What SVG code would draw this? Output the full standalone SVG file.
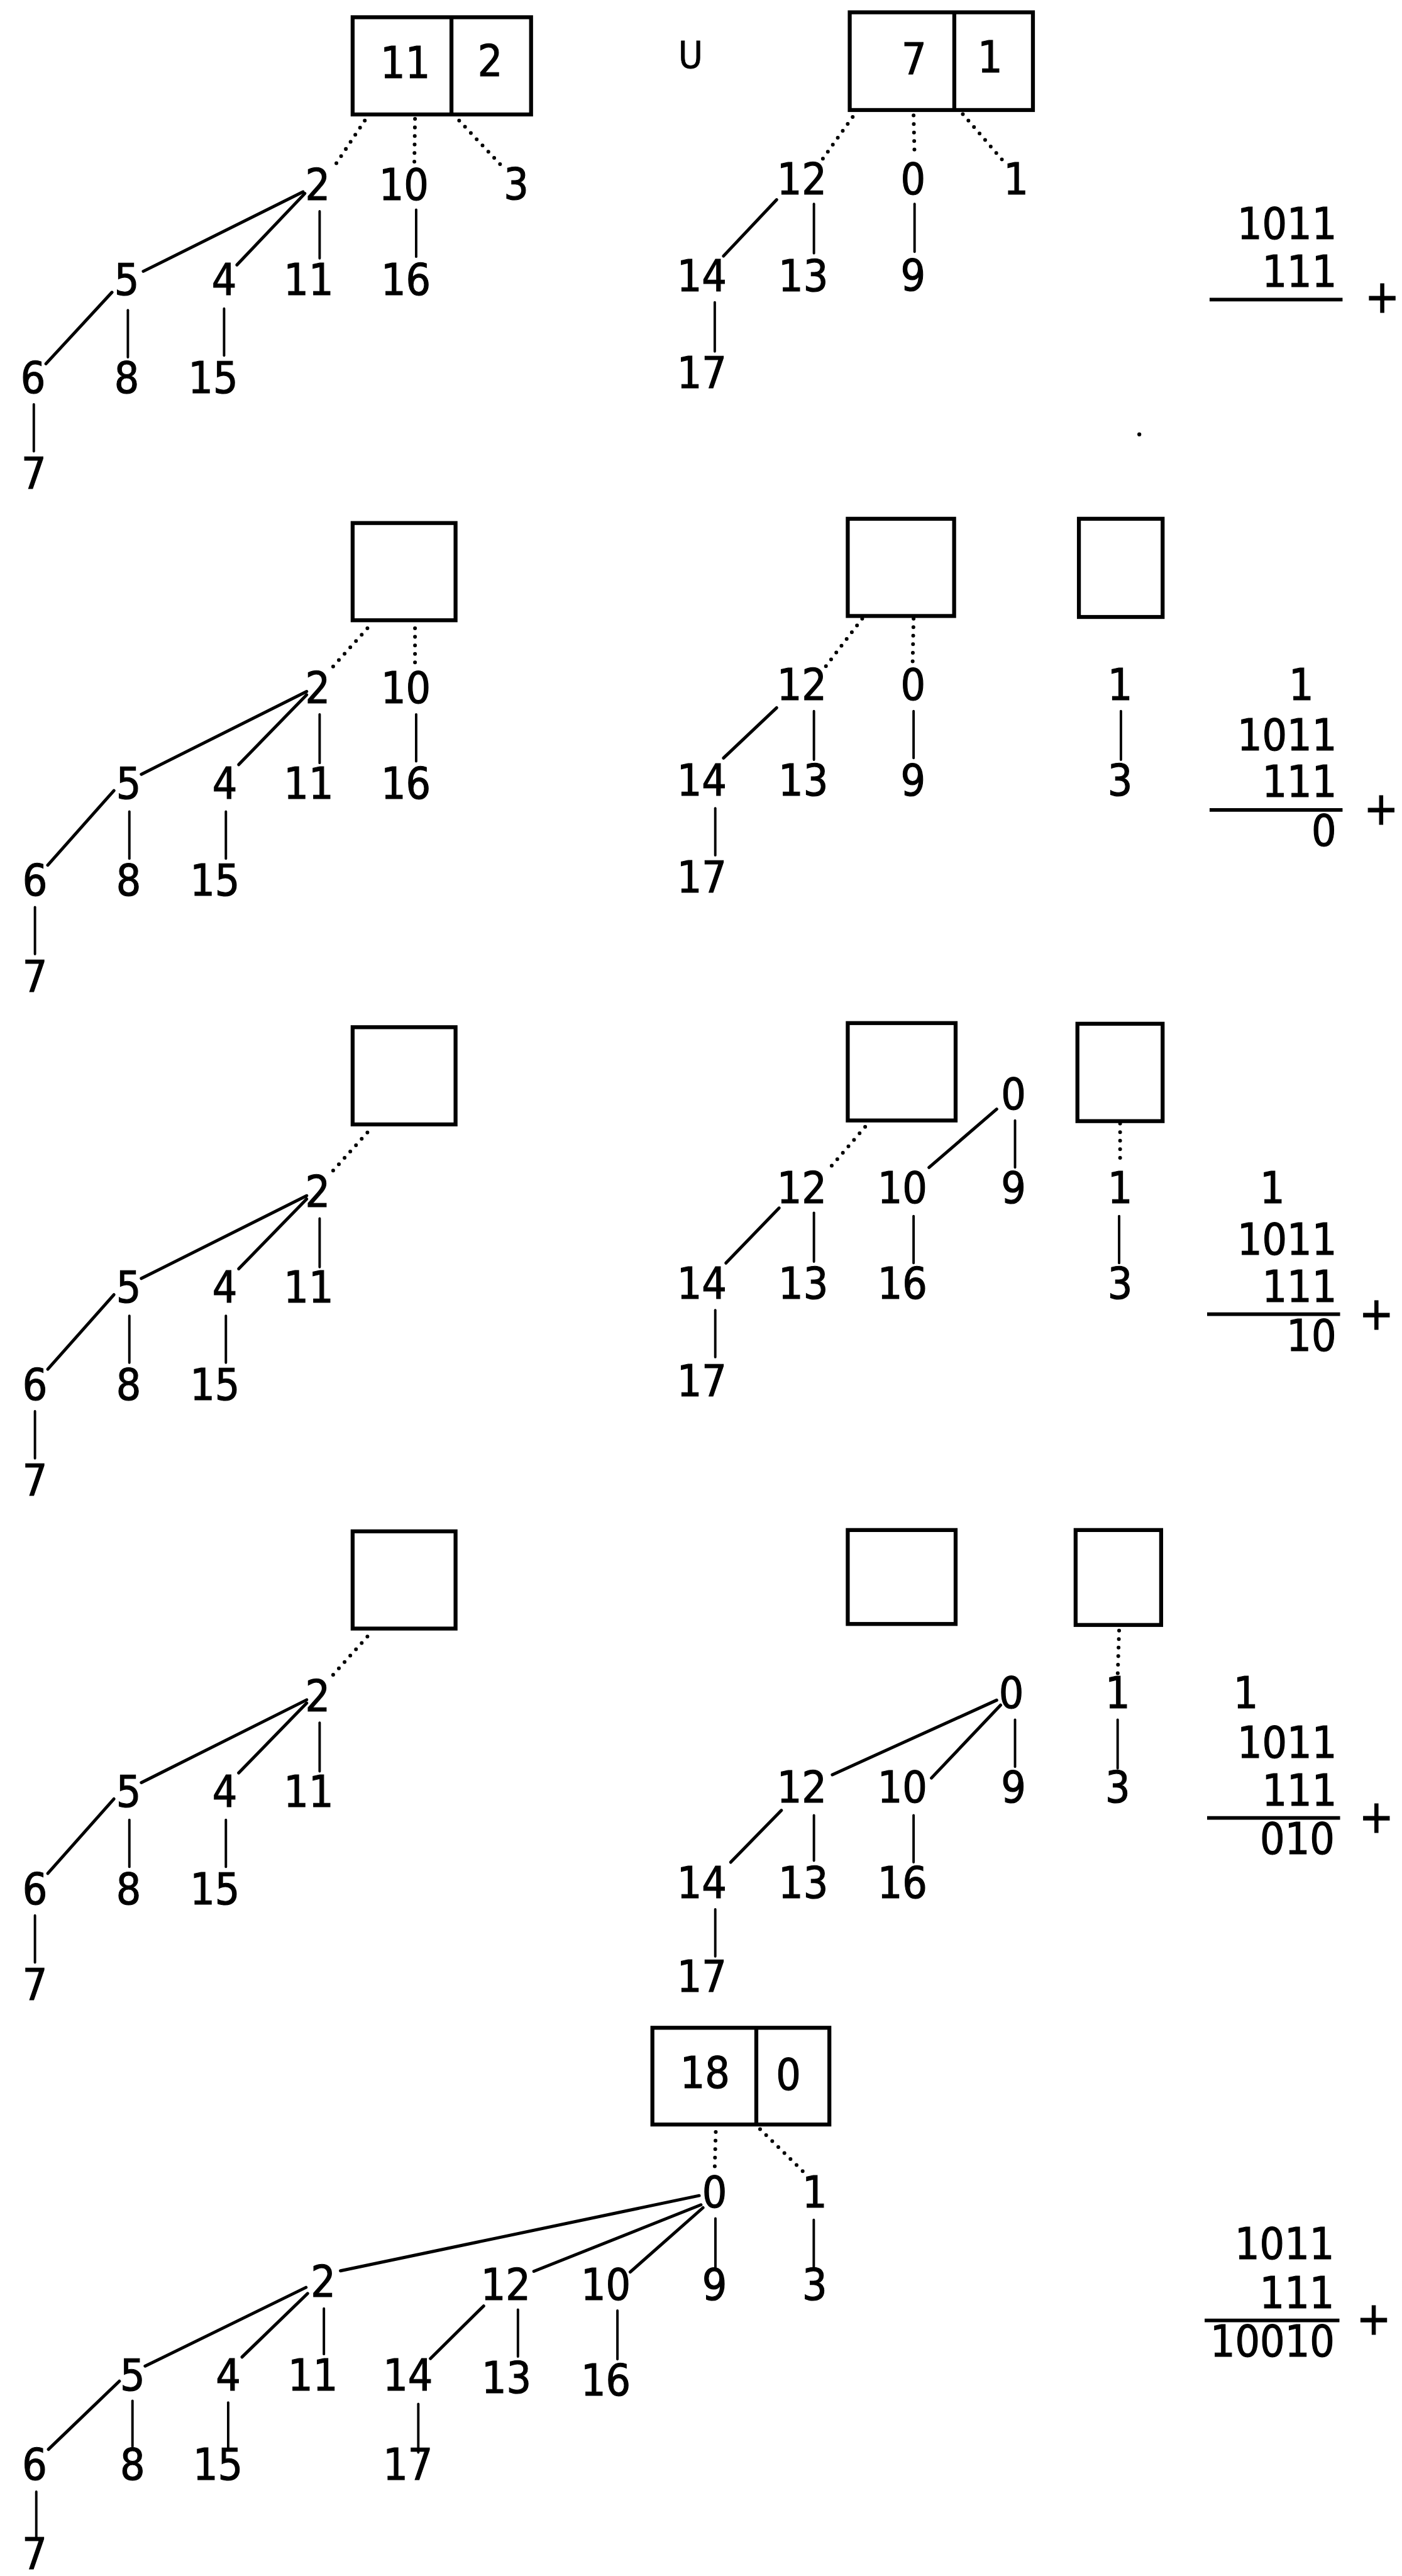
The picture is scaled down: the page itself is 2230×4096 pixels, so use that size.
<svg xmlns="http://www.w3.org/2000/svg" width="2230" height="4096" viewBox="0 0 2230 4096">
<style>
  .nodes text { font-family: "DejaVu Sans Condensed", "DejaVu Sans", sans-serif; font-stretch: condensed; font-size: 26.5px; text-anchor: middle; fill: #000; stroke: #000; stroke-width: 0.45; }
  .nodes text.r { text-anchor: end; }
  .nodes text.sm { font-size: 22.6px; stroke-width: 0.3; }
  .nodes text.op { font-size: 28px; }
  .box { fill: none; stroke: #000; stroke-width: 2.4; }
  .edge line { stroke: #000; stroke-width: 1.5; stroke-linecap: round; fill: none; }
  .edge line.dg { stroke-width: 1.9; }
  .edge line.dot { stroke-width: 2.3; stroke-dasharray: 0 5.2; }
  .rule { stroke: #000; stroke-width: 2.2; }
</style>
<rect width="2230" height="4096" fill="#fff"/>
<g transform="scale(2.6112)">

<!-- ===== step 1 ===== -->
<g id="connectors-1" class="edge">
  <line class="dot" x1="222.2" y1="73.4" x2="202.5" y2="103"/>
  <line class="dot" x1="252.8" y1="72.4" x2="252.4" y2="99.1"/>
  <line class="dot" x1="279.7" y1="73.4" x2="306.5" y2="102"/>
  <line class="dg" x1="184.6" y1="116.8" x2="87.3" y2="165.2"/>
  <line class="dg" x1="185.7" y1="117.8" x2="144.3" y2="161.3"/>
  <line x1="194.7" y1="128.7" x2="194.7" y2="157.3"/>
  <line x1="253.5" y1="127.7" x2="253.5" y2="156.3"/>
  <line class="dg" x1="68.2" y1="178" x2="28" y2="221.5"/>
  <line x1="77.9" y1="188.9" x2="77.9" y2="217.5"/>
  <line x1="136.5" y1="187.9" x2="136.5" y2="216.5"/>
  <line x1="20.6" y1="246.2" x2="20.6" y2="274.8"/>
  <line class="dot" x1="519.4" y1="71.2" x2="501.1" y2="96.8"/>
  <line class="dot" x1="556.5" y1="70.3" x2="557.1" y2="95.1"/>
  <line class="dot" x1="586.5" y1="69.5" x2="611.6" y2="98.6"/>
  <line class="dg" x1="473.1" y1="121.6" x2="440.7" y2="155.9"/>
  <line x1="495.8" y1="124.2" x2="495.8" y2="154.2"/>
  <line x1="557.1" y1="124.2" x2="557.1" y2="153.3"/>
  <line x1="435.4" y1="184.1" x2="435.4" y2="214"/>
</g>
<g id="step-1" class="nodes">
  <g id="s1-boxA"><rect class="box" x="214.8" y="10.5" width="108.7" height="59.2"/><line class="box" x1="275" y1="10.5" x2="275" y2="69.7"/><text x="246.9" y="47.3">11</text><text x="298.5" y="46.4">2</text></g>
  <g id="s1-union"><text class="sm" x="420.7" y="41.3">U</text></g>
  <g id="s1-boxB"><rect class="box" x="517.6" y="7.5" width="111.6" height="59.5"/><line class="box" x1="581.3" y1="7.5" x2="581.3" y2="67"/><text x="556.8" y="45">7</text><text x="603.1" y="44">1</text></g>
  <g id="s1-n2"><text x="193.5" y="121.8">2</text></g>
  <g id="s1-n10"><text x="246" y="121.8">10</text></g>
  <g id="s1-n3"><text x="314.4" y="121.3">3</text></g>
  <g id="s1-n5"><text x="77.2" y="179.5">5</text></g>
  <g id="s1-n4"><text x="136.5" y="179.5">4</text></g>
  <g id="s1-n11"><text x="188" y="179.8">11</text></g>
  <g id="s1-n16"><text x="247.2" y="179.5">16</text></g>
  <g id="s1-n6"><text x="20.1" y="239.2">6</text></g>
  <g id="s1-n8"><text x="77.2" y="239.2">8</text></g>
  <g id="s1-n15"><text x="129.8" y="239.2">15</text></g>
  <g id="s1-n7"><text x="20.6" y="297.5">7</text></g>
  <g id="s1-n12"><text x="488.4" y="118.2">12</text></g>
  <g id="s1-n0"><text x="556.2" y="118.2">0</text></g>
  <g id="s1-n1"><text x="618.9" y="118.2">1</text></g>
  <g id="s1-n14"><text x="427.5" y="177.3">14</text></g>
  <g id="s1-n13"><text x="489.3" y="177.3">13</text></g>
  <g id="s1-n9"><text x="556.2" y="176.8">9</text></g>
  <g id="s1-n17"><text x="427.5" y="236.3">17</text></g>
  <g id="s1-sum"><text class="r" x="814.3" y="145.6">1011</text><text class="r" x="814.3" y="174.7">111</text><line class="rule" x1="736.8" y1="182.4" x2="817.8" y2="182.4"/><text class="op" x="842" y="190.4">+</text></g>
  <circle cx="694" cy="264.5" r="1.2" fill="#000"/>
</g>

<!-- ===== step 2 ===== -->
<g id="connectors-2" class="edge">
  <line class="dot" x1="223.8" y1="382.6" x2="202.5" y2="406.3"/>
  <line class="dot" x1="252.8" y1="382.6" x2="252.8" y2="405.4"/>
  <line class="dg" x1="186.8" y1="421.1" x2="86.1" y2="471.5"/>
  <line class="dg" x1="186.8" y1="423.1" x2="145.4" y2="465.6"/>
  <line x1="194.7" y1="435" x2="194.7" y2="464.6"/>
  <line x1="253.5" y1="435" x2="253.5" y2="463.6"/>
  <line class="dg" x1="69.4" y1="481.4" x2="29.1" y2="526.8"/>
  <line x1="78.8" y1="494.2" x2="78.8" y2="522.8"/>
  <line x1="137.6" y1="494.2" x2="137.6" y2="522.8"/>
  <line x1="21.3" y1="552.4" x2="21.3" y2="581"/>
  <line class="dot" x1="525.2" y1="376.7" x2="502.6" y2="406.3"/>
  <line class="dot" x1="556.5" y1="376.7" x2="555.9" y2="404.4"/>
  <line class="dg" x1="473.1" y1="431" x2="440.7" y2="461.6"/>
  <line x1="495.8" y1="433" x2="495.8" y2="462.6"/>
  <line x1="556.5" y1="433" x2="556.5" y2="461.6"/>
  <line x1="682.8" y1="433" x2="682.8" y2="462.6"/>
  <line x1="435.7" y1="492.2" x2="435.7" y2="520.8"/>
</g>
<g id="step-2" class="nodes">
  <g id="s2-boxA"><rect class="box" x="214.8" y="318.5" width="62.7" height="59.2"/></g>
  <g id="s2-boxB"><rect class="box" x="516.4" y="315.9" width="64.8" height="59.2"/></g>
  <g id="s2-boxC"><rect class="box" x="657.2" y="315.9" width="51" height="59.8"/></g>
  <g id="s2-n2"><text x="193.5" y="428.1">2</text></g>
  <g id="s2-n10"><text x="247.2" y="428.1">10</text></g>
  <g id="s2-n5"><text x="78.3" y="486.3">5</text></g>
  <g id="s2-n4"><text x="136.9" y="486.3">4</text></g>
  <g id="s2-n11"><text x="188" y="486.3">11</text></g>
  <g id="s2-n16"><text x="247.2" y="486.3">16</text></g>
  <g id="s2-n6"><text x="21.3" y="545.5">6</text></g>
  <g id="s2-n8"><text x="78.3" y="545.5">8</text></g>
  <g id="s2-n15"><text x="130.9" y="545.5">15</text></g>
  <g id="s2-n7"><text x="21.3" y="603.8">7</text></g>
  <g id="s2-n12"><text x="488.4" y="426.1">12</text></g>
  <g id="s2-n0"><text x="556.2" y="426.1">0</text></g>
  <g id="s2-n1"><text x="682.3" y="426.1">1</text></g>
  <g id="s2-n14"><text x="427.5" y="484.3">14</text></g>
  <g id="s2-n13"><text x="489.3" y="484.3">13</text></g>
  <g id="s2-n9"><text x="556.2" y="484.3">9</text></g>
  <g id="s2-n3"><text x="682.3" y="484.3">3</text></g>
  <g id="s2-n17"><text x="427.5" y="543.6">17</text></g>
  <g id="s2-sum"><text x="792.7" y="426.1">1</text><text class="r" x="814.3" y="456.7">1011</text><text class="r" x="814.3" y="485.3">111</text><line class="rule" x1="736.8" y1="493.2" x2="817.8" y2="493.2"/><text class="r" x="814" y="514.9">0</text><text class="op" x="841.3" y="501.9">+</text></g>
</g>

<!-- ===== step 3 ===== -->
<g id="connectors-3" class="edge">
  <g transform="translate(0,307)">
    <line class="dot" x1="223.8" y1="382.6" x2="202.5" y2="406.3"/>
    <line class="dg" x1="186.8" y1="421.1" x2="86.1" y2="471.5"/>
    <line class="dg" x1="186.8" y1="423.1" x2="145.4" y2="465.6"/>
    <line x1="194.7" y1="435" x2="194.7" y2="464.6"/>
    <line class="dg" x1="69.4" y1="481.4" x2="29.1" y2="526.8"/>
    <line x1="78.8" y1="494.2" x2="78.8" y2="522.8"/>
    <line x1="137.6" y1="494.2" x2="137.6" y2="522.8"/>
    <line x1="21.3" y1="552.4" x2="21.3" y2="581"/>
  </g>
  <line class="dg" x1="607.1" y1="675.4" x2="565.9" y2="710.9"/>
  <line x1="618.3" y1="682.3" x2="618.3" y2="710.9"/>
  <line class="dot" x1="527" y1="686.2" x2="504" y2="712.9"/>
  <line class="dot" x1="682.3" y1="684.2" x2="682.3" y2="709.9"/>
  <line class="dg" x1="474.6" y1="735.6" x2="442.2" y2="769.1"/>
  <line x1="495.8" y1="738.5" x2="495.8" y2="768.2"/>
  <line x1="556.5" y1="740.5" x2="556.5" y2="769.1"/>
  <line x1="681.7" y1="740.5" x2="681.7" y2="769.1"/>
  <line x1="435.7" y1="797.8" x2="435.7" y2="826.4"/>
</g>
<g id="step-3" class="nodes">
  <g transform="translate(0,307)">
    <g id="s3-boxA"><rect class="box" x="214.8" y="318.5" width="62.7" height="59.2"/></g>
    <g id="s3-n2"><text x="193.5" y="428.1">2</text></g>
    <g id="s3-n5"><text x="78.3" y="486.3">5</text></g>
    <g id="s3-n4"><text x="136.9" y="486.3">4</text></g>
    <g id="s3-n11"><text x="188" y="486.3">11</text></g>
    <g id="s3-n6"><text x="21.3" y="545.5">6</text></g>
    <g id="s3-n8"><text x="78.3" y="545.5">8</text></g>
    <g id="s3-n15"><text x="130.9" y="545.5">15</text></g>
    <g id="s3-n7"><text x="21.3" y="603.8">7</text></g>
  </g>
  <g id="s3-boxB"><rect class="box" x="516.4" y="623" width="65.7" height="59.3"/></g>
  <g id="s3-boxC"><rect class="box" x="656.3" y="623.4" width="51.9" height="59.3"/></g>
  <g id="s3-n0"><text x="617.4" y="675.4">0</text></g>
  <g id="s3-n12"><text x="488.4" y="732.6">12</text></g>
  <g id="s3-n10"><text x="549.7" y="732.6">10</text></g>
  <g id="s3-n9"><text x="617.4" y="732.6">9</text></g>
  <g id="s3-n1"><text x="682.3" y="732.6">1</text></g>
  <g id="s3-n14"><text x="427.5" y="790.9">14</text></g>
  <g id="s3-n13"><text x="489.3" y="790.9">13</text></g>
  <g id="s3-n16"><text x="549.7" y="790.9">16</text></g>
  <g id="s3-n3"><text x="682.3" y="790.9">3</text></g>
  <g id="s3-n17"><text x="427.5" y="850.1">17</text></g>
  <g id="s3-sum"><text x="775" y="732.6">1</text><text class="r" x="814.3" y="764.2">1011</text><text class="r" x="814.3" y="792.8">111</text><line class="rule" x1="735.3" y1="800.3" x2="816.3" y2="800.3"/><text class="r" x="814" y="822.5">10</text><text class="op" x="838.4" y="809.4">+</text></g>
</g>

<!-- ===== step 4 ===== -->
<g id="connectors-4" class="edge">
  <g transform="translate(0,614)">
    <line class="dot" x1="223.8" y1="382.6" x2="202.5" y2="406.3"/>
    <line class="dg" x1="186.8" y1="421.1" x2="86.1" y2="471.5"/>
    <line class="dg" x1="186.8" y1="423.1" x2="145.4" y2="465.6"/>
    <line x1="194.7" y1="435" x2="194.7" y2="464.6"/>
    <line class="dg" x1="69.4" y1="481.4" x2="29.1" y2="526.8"/>
    <line x1="78.8" y1="494.2" x2="78.8" y2="522.8"/>
    <line x1="137.6" y1="494.2" x2="137.6" y2="522.8"/>
    <line x1="21.3" y1="552.4" x2="21.3" y2="581"/>
  </g>
  <line class="dot" x1="681.7" y1="992.9" x2="680.8" y2="1020.5"/>
  <line class="dg" x1="607.1" y1="1035.3" x2="507" y2="1080.7"/>
  <line class="dg" x1="609.5" y1="1038.3" x2="567.4" y2="1082.7"/>
  <line x1="618.3" y1="1047.2" x2="618.3" y2="1075.8"/>
  <line x1="680.8" y1="1047.2" x2="680.8" y2="1076.8"/>
  <line class="dg" x1="476" y1="1102.4" x2="445.1" y2="1134"/>
  <line x1="495.8" y1="1105.4" x2="495.8" y2="1133"/>
  <line x1="556.5" y1="1105.4" x2="556.5" y2="1134"/>
  <line x1="435.7" y1="1162.7" x2="435.7" y2="1191.3"/>
</g>
<g id="step-4" class="nodes">
  <g transform="translate(0,614)">
    <g id="s4-boxA"><rect class="box" x="214.8" y="318.5" width="62.7" height="59.2"/></g>
    <g id="s4-n2"><text x="193.5" y="428.1">2</text></g>
    <g id="s4-n5"><text x="78.3" y="486.3">5</text></g>
    <g id="s4-n4"><text x="136.9" y="486.3">4</text></g>
    <g id="s4-n11"><text x="188" y="486.3">11</text></g>
    <g id="s4-n6"><text x="21.3" y="545.5">6</text></g>
    <g id="s4-n8"><text x="78.3" y="545.5">8</text></g>
    <g id="s4-n15"><text x="130.9" y="545.5">15</text></g>
    <g id="s4-n7"><text x="21.3" y="603.8">7</text></g>
  </g>
  <g id="s4-boxB"><rect class="box" x="516.4" y="931.7" width="65.7" height="57.2"/></g>
  <g id="s4-boxC"><rect class="box" x="655.2" y="931.7" width="52.1" height="57.8"/></g>
  <g id="s4-n0"><text x="616" y="1040.2">0</text></g>
  <g id="s4-n1"><text x="680.8" y="1040.2">1</text></g>
  <g id="s4-n12"><text x="488.4" y="1097.5">12</text></g>
  <g id="s4-n10"><text x="549.7" y="1097.5">10</text></g>
  <g id="s4-n9"><text x="617.4" y="1097.5">9</text></g>
  <g id="s4-n3"><text x="680.8" y="1097.5">3</text></g>
  <g id="s4-n14"><text x="427.5" y="1155.7">14</text></g>
  <g id="s4-n13"><text x="489.3" y="1155.7">13</text></g>
  <g id="s4-n16"><text x="549.7" y="1155.7">16</text></g>
  <g id="s4-n17"><text x="427.5" y="1213">17</text></g>
  <g id="s4-sum"><text x="758.9" y="1040.2">1</text><text class="r" x="814.3" y="1070.5">1011</text><text class="r" x="814.3" y="1099.5">111</text><line class="rule" x1="735.3" y1="1107" x2="816.3" y2="1107"/><text class="r" x="813" y="1129.1">010</text><text class="op" x="838.4" y="1116.1">+</text></g>
</g>

<!-- ===== step 5 ===== -->
<g id="connectors-5" class="edge">
  <line class="dot" x1="436" y1="1298.3" x2="435.3" y2="1322.3"/>
  <line class="dot" x1="463" y1="1296.5" x2="491" y2="1324.1"/>
  <line class="dg" x1="425.9" y1="1337" x2="207.4" y2="1382.8"/>
  <line class="dg" x1="427" y1="1342.6" x2="325.2" y2="1383.1"/>
  <line class="dg" x1="428.2" y1="1344.4" x2="383.9" y2="1383.5"/>
  <line x1="435.8" y1="1350.9" x2="435.8" y2="1381.3"/>
  <line x1="495.7" y1="1351.8" x2="495.7" y2="1381.3"/>
  <line class="dg" x1="186.4" y1="1392.9" x2="88.4" y2="1440.8"/>
  <line class="dg" x1="187.4" y1="1396.6" x2="147.4" y2="1435.3"/>
  <line x1="197.3" y1="1405.8" x2="197.3" y2="1433.5"/>
  <line class="dg" x1="294.6" y1="1404.2" x2="262.2" y2="1436.2"/>
  <line x1="315.5" y1="1406.4" x2="315.5" y2="1435"/>
  <line x1="376.1" y1="1407" x2="376.1" y2="1436.6"/>
  <line class="dg" x1="72.7" y1="1450" x2="29.5" y2="1491.5"/>
  <line x1="80.7" y1="1462" x2="80.7" y2="1489.7"/>
  <line x1="139" y1="1463" x2="139" y2="1490.6"/>
  <line x1="254.8" y1="1463.9" x2="254.8" y2="1493.4"/>
  <line x1="22.1" y1="1517.3" x2="22.1" y2="1545.9"/>
</g>
<g id="step-5" class="nodes">
  <g id="s5-box"><rect class="box" x="397.4" y="1234.8" width="107.8" height="58.9"/><line class="box" x1="460.7" y1="1234.8" x2="460.7" y2="1293.7"/><text x="429.4" y="1271.6">18</text><text x="480.3" y="1272.6">0</text></g>
  <g id="s5-n0"><text x="435.3" y="1344.4">0</text></g>
  <g id="s5-n1"><text x="496.2" y="1344.4">1</text></g>
  <g id="s5-n2"><text x="196.9" y="1398.5">2</text></g>
  <g id="s5-n12"><text x="308" y="1400.6">12</text></g>
  <g id="s5-n10"><text x="369" y="1400.6">10</text></g>
  <g id="s5-n9"><text x="435.3" y="1400.6">9</text></g>
  <g id="s5-n3"><text x="496.2" y="1400.6">3</text></g>
  <g id="s5-n5"><text x="80.7" y="1455.5">5</text></g>
  <g id="s5-n4"><text x="139" y="1455.5">4</text></g>
  <g id="s5-n11"><text x="190.6" y="1455.5">11</text></g>
  <g id="s5-n14"><text x="248.5" y="1455.5">14</text></g>
  <g id="s5-n13"><text x="308.5" y="1457">13</text></g>
  <g id="s5-n16"><text x="369" y="1458.7">16</text></g>
  <g id="s5-n6"><text x="21.1" y="1510">6</text></g>
  <g id="s5-n8"><text x="80.7" y="1510">8</text></g>
  <g id="s5-n15"><text x="132.7" y="1510">15</text></g>
  <g id="s5-n17"><text x="248.5" y="1510">17</text></g>
  <g id="s5-n7"><text x="21.1" y="1564.5">7</text></g>
  <g id="s5-sum"><text class="r" x="812.8" y="1375.6">1011</text><text class="r" x="812.8" y="1405.6">111</text><line class="rule" x1="733.8" y1="1413" x2="815.9" y2="1413"/><text class="r" x="813" y="1435">10010</text><text class="op" x="836.8" y="1421.6">+</text></g>
</g>

</g>
</svg>
